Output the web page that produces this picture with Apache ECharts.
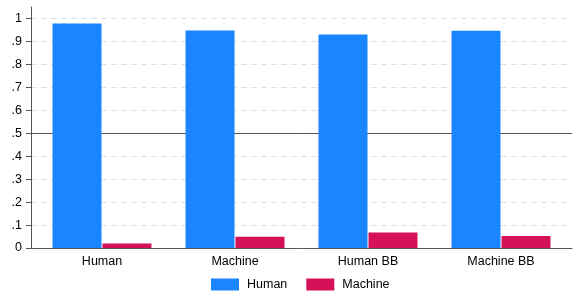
<!DOCTYPE html>
<html><head><meta charset="utf-8">
<script src="https://cdn.jsdelivr.net/npm/echarts@6/dist/echarts.min.js"></script>
<style>html,body{margin:0;padding:0;background:#fff}#c{width:576px;height:300px}</style>
</head><body><div id="c"></div>
<script>
var categories = ['Human', 'Machine', 'Human BB', 'Machine BB'];
var humanValues = [0.978, 0.948, 0.930, 0.947];
var machineValues = [0.020, 0.049, 0.068, 0.052];
var yTicks = [0, 0.1, 0.2, 0.3, 0.4, 0.5, 0.6, 0.7, 0.8, 0.9, 1];
var refLine = 0.5;

var FONT = 'Liberation Sans';
var chart = echarts.init(document.getElementById('c'), null, {renderer: 'canvas'});
function fmt(v) {
  var r = Math.round(v * 10) / 10;
  if (Math.abs(r - v) > 1e-6) return '';
  if (r === 0) return '0';
  if (r === 1) return '1';
  return r.toFixed(1).replace(/^0/, '');
}
chart.setOption({
  animation: false,
  grid: [
    {left: 31, right: 4, top: 7, bottom: 52},
    {left: 35.5, right: 8.5, top: 7, bottom: 52}
  ],
  legend: {
    left: 211, top: 278, padding: 0, itemWidth: 28, itemHeight: 12, itemGap: 19,
    icon: 'rect',
    data: ['Human', 'Machine'],
    textStyle: {fontFamily: FONT, fontSize: 12.5, color: '#000', padding: [0, 0, 0, 3]}
  },
  xAxis: [
    {gridIndex: 0, type: 'value', min: 0, max: 1, show: true,
     axisLine: {show: true, onZero: false, lineStyle: {color: '#555', width: 1}},
     axisTick: {show: false}, axisLabel: {show: false}, splitLine: {show: false}},
    {gridIndex: 1, type: 'category', data: categories,
     axisLine: {show: false}, axisTick: {show: false},
     axisLabel: {fontFamily: FONT, fontSize: 12.5, color: '#000', margin: 7}}
  ],
  yAxis: [
    {gridIndex: 0, type: 'value', min: 0, max: 1.05, interval: 0.1,
     axisLine: {show: true, lineStyle: {color: '#555', width: 1}},
     axisTick: {show: true, length: 5, lineStyle: {color: '#555'}},
     axisLabel: {fontFamily: FONT, fontSize: 12.5, color: '#000', margin: 9, formatter: fmt, showMaxLabel: false},
     splitLine: {show: true, showMaxLine: false, lineStyle: {color: '#e0e0e0', type: [6, 4], width: 1}}},
    {gridIndex: 1, type: 'value', min: 0, max: 1.05, show: false, splitLine: {show: false}}
  ],
  series: [
    {type: 'line', xAxisIndex: 0, yAxisIndex: 0, data: [], silent: true, z: 0,
     markLine: {symbol: 'none', silent: true, label: {show: false},
       lineStyle: {color: '#555', type: 'solid', width: 1},
       data: [{yAxis: refLine}]}},
    {name: 'Human', type: 'bar', xAxisIndex: 1, yAxisIndex: 1, data: humanValues, z: 5,
     barWidth: 49, barGap: '2%', itemStyle: {color: '#1a85ff'}},
    {name: 'Machine', type: 'bar', xAxisIndex: 1, yAxisIndex: 1, data: machineValues, z: 5,
     barWidth: 49, barGap: '2%', itemStyle: {color: '#d41159'}}
  ]
});
</script></body></html>
